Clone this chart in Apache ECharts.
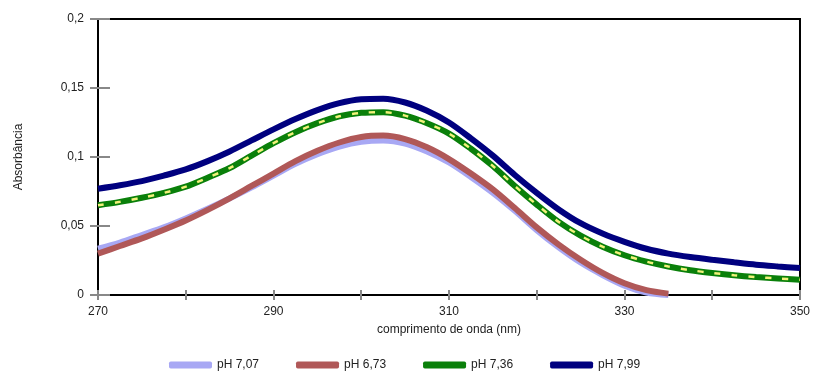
<!DOCTYPE html>
<html><head><meta charset="utf-8">
<script src="https://cdn.jsdelivr.net/npm/echarts@6/dist/echarts.min.js"></script>
<style>html,body{margin:0;padding:0;background:#fff}#c{width:813px;height:375px}</style>
</head><body><div id="c"></div>
<script>
var wavelengths = [270,272.5,275,277.5,280,282.5,285,287.5,290,292.5,295,297.5,300,302.5,305,307.5,310,312.5,315,317.5,320,322.5,325,327.5,330,332.5,335,337.5,340,342.5,345,347.5,350];
var seriesNames = ['pH 7,07','pH 6,73','pH 7,36','pH 7,99'];
var ph707 = [0.0335,0.038,0.0435,0.049,0.0555,0.0625,0.070,0.078,0.0865,0.095,0.102,0.1075,0.111,0.112,0.1098,0.104,0.096,0.0855,0.074,0.061,0.047,0.0345,0.0235,0.0145,0.0068,0.0018,0.0,null,null,null,null,null,null];
var ph673 = [0.030,0.0355,0.041,0.0473,0.054,0.0617,0.070,0.079,0.088,0.097,0.1045,0.1105,0.1145,0.1155,0.113,0.107,0.0985,0.088,0.0765,0.063,0.049,0.0365,0.0255,0.016,0.0085,0.0035,0.001,null,null,null,null,null,null];
var ph736 = [0.065,0.0675,0.0705,0.074,0.0785,0.085,0.092,0.101,0.110,0.118,0.1245,0.1295,0.132,0.1325,0.130,0.1245,0.117,0.106,0.0935,0.079,0.0655,0.053,0.043,0.035,0.0288,0.0242,0.0207,0.018,0.016,0.0143,0.013,0.012,0.011];
var ph799 = [0.077,0.0795,0.0825,0.0865,0.091,0.097,0.104,0.112,0.120,0.1275,0.134,0.139,0.1418,0.1422,0.1395,0.1335,0.125,0.1135,0.101,0.087,0.074,0.062,0.052,0.0445,0.0385,0.0335,0.030,0.0275,0.0255,0.0237,0.022,0.0207,0.0195];
var xTicks = [270,290,310,330,350];

function pairs(arr){var o=[];for(var i=0;i<wavelengths.length;i++){if(arr[i]!==null)o.push([wavelengths[i],arr[i]]);}return o;}
var colors = ['#a8a8f4','#b05858','#0a800a','#00007f'];
var font = 'Liberation Sans, Arial, sans-serif';
function fmtY(v){return String(+v.toFixed(2)).replace('.',',');}
function fmtX(v){return xTicks.indexOf(v)>=0?String(v):'';}

var chart = echarts.init(document.getElementById('c'));
var base = {type:'line',smooth:0.3,symbol:'none',z:2};
chart.setOption({
  animation:false,
  grid:{left:98,right:10,top:19,bottom:80,show:true,borderColor:'#000',borderWidth:2},
  legend:{bottom:-1,left:164,itemGap:37,itemWidth:43,itemHeight:7,icon:'roundRect',
    data:seriesNames,textStyle:{fontFamily:font,fontSize:12,color:'#222'}},
  xAxis:[{type:'value',min:270,max:350,interval:10,position:'bottom',
    name:'comprimento de onda (nm)',nameLocation:'middle',nameGap:29,
    nameTextStyle:{fontFamily:font,fontSize:12,color:'#222'},
    axisLine:{lineStyle:{color:'#000',width:2}},
    axisTick:{show:true,length:5,lineStyle:{color:'#888',width:2}},
    axisLabel:{formatter:fmtX,margin:11,fontFamily:font,fontSize:12,color:'#222'},
    splitLine:{show:false}},
   {type:'value',min:270,max:350,interval:10,position:'bottom',offset:0,
    axisLine:{show:false},axisTick:{show:true,inside:true,length:5,lineStyle:{color:'#888',width:2}},
    axisLabel:{show:false},splitLine:{show:false}}],
  yAxis:[{type:'value',min:0,max:0.2,interval:0.05,position:'left',
    name:'Absorbância',nameLocation:'middle',nameGap:73,nameRotate:90,
    nameTextStyle:{fontFamily:font,fontSize:12,color:'#222'},
    axisLine:{lineStyle:{color:'#000',width:2}},
    axisTick:{show:true,length:8,lineStyle:{color:'#888',width:2}},
    axisLabel:{formatter:fmtY,margin:14,fontFamily:font,fontSize:12,color:'#222'},
    splitLine:{show:false}},
   {type:'value',min:0,max:0.2,interval:0.05,position:'left',offset:0,
    axisLine:{show:false},axisTick:{show:true,inside:true,length:12,lineStyle:{color:'#888',width:2}},
    axisLabel:{show:false},splitLine:{show:false}}],
  series:[
    Object.assign({},base,{name:seriesNames[0],data:pairs(ph707),itemStyle:{color:colors[0]},lineStyle:{color:colors[0],width:6}}),
    Object.assign({},base,{name:seriesNames[1],data:pairs(ph673),itemStyle:{color:colors[1]},lineStyle:{color:colors[1],width:6}}),
    Object.assign({},base,{name:seriesNames[2],data:pairs(ph736),itemStyle:{color:colors[2]},lineStyle:{color:colors[2],width:6}}),
    Object.assign({},base,{name:'dash736',data:pairs(ph736),z:3,itemStyle:{color:'#f2f27a'},lineStyle:{color:'#f2f27a',width:2.5,type:[6,11]}}),
    Object.assign({},base,{name:seriesNames[3],data:pairs(ph799),itemStyle:{color:colors[3]},lineStyle:{color:colors[3],width:6}})
  ]
});
</script></body></html>
